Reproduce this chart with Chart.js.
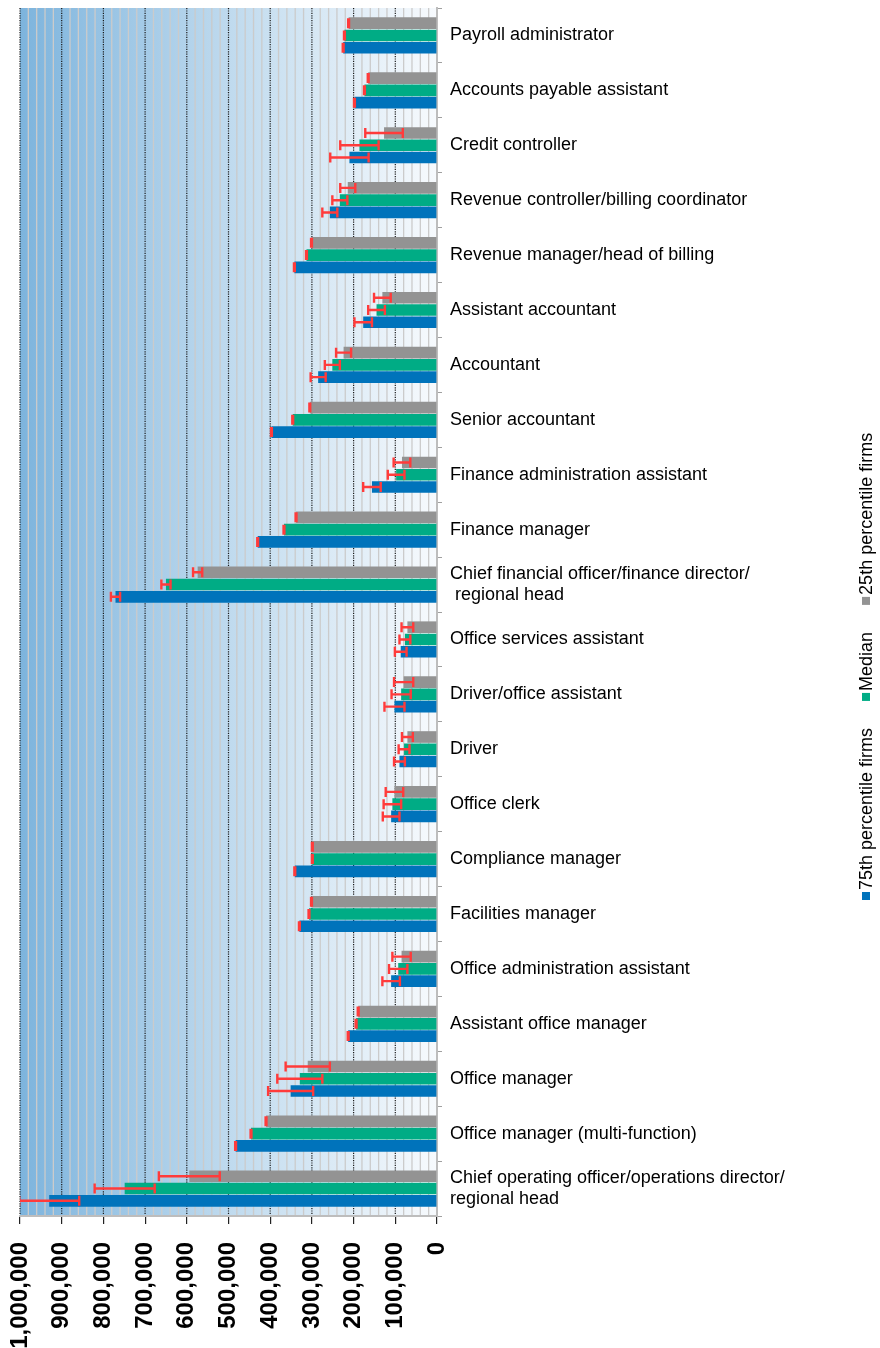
<!DOCTYPE html>
<html><head><meta charset="utf-8">
<script src="https://cdn.jsdelivr.net/npm/chart.js@4"></script>
<style>html,body{margin:0;padding:0;background:#fff}canvas{display:block}</style>
</head><body>
<canvas id="c" width="880" height="1348"></canvas>
<script>
const categories = [
  'Payroll administrator',
  'Accounts payable assistant',
  'Credit controller',
  'Revenue controller/billing coordinator',
  'Revenue manager/head of billing',
  'Assistant accountant',
  'Accountant',
  'Senior accountant',
  'Finance administration assistant',
  'Finance manager',
  ['Chief financial officer/finance director/', ' regional head'],
  'Office services assistant',
  'Driver/office assistant',
  'Driver',
  'Office clerk',
  'Compliance manager',
  'Facilities manager',
  'Office administration assistant',
  'Assistant office manager',
  'Office manager',
  'Office manager (multi-function)',
  ['Chief operating officer/operations director/', 'regional head']
];
const seriesNames = ['25th percentile firms', 'Median', '75th percentile firms'];
const p25    = [212000,165000,127000,214000,301000,131000,224000,305000, 84000,338000,574000, 71000, 80000, 71000,102000,299000,301000, 85000,189000,310000,410000,594000];
const median = [222000,174000,186000,233000,313000,145000,251000,346000, 98000,367000,650000, 77000, 86000, 79000,107000,299000,307000, 93000,194000,329000,446000,749000];
const p75    = [225000,198000,210000,257000,342000,177000,285000,397000,156000,430000,771000, 87000,102000, 90000,110000,341000,330000,110000,213000,351000,483000,930000];
const err25  = [1000,1000,45000,18000,1000,20000,18000,1000,20000,1000,11000,14000,23000,13000,21000,1000,1000,22000,1000,53000,1000,73000];
const errMed = [1000,1000,46000,18000,1000,20000,18000,1000,20000,1000,11000,13000,23000,13000,21000,1000,1000,22000,1000,54000,1000,72000];
const err75  = [1000,1000,46000,18000,1000,21000,18000,1000,21000,1000,11000,14000,24000,13000,20000,1000,1000,21000,1000,54000,1000,72000];
const axisMax = 1000000, majorStep = 100000, minorStep = 20000;

const colors = ['#939393', '#00ac85', '#0073bb'];
const FONT = "'Liberation Sans', Arial, sans-serif";

const backgroundPlugin = {
  id: 'bg',
  beforeDraw(chart) {
    const ctx = chart.ctx, a = chart.chartArea, xs = chart.scales.x;
    ctx.save();
    const g = ctx.createLinearGradient(a.left, 0, a.right, 0);
    g.addColorStop(0, '#7db4dd');
    g.addColorStop(0.5, '#bfdaee');
    g.addColorStop(1, '#f7fafd');
    ctx.fillStyle = g;
    ctx.fillRect(a.left, a.top, a.right - a.left, a.bottom - a.top);
    ctx.strokeStyle = '#cbcbcb';
    ctx.lineWidth = 1.3;
    for (let v = minorStep; v < axisMax; v += minorStep) {
      if (v % majorStep === 0) continue;
      const x = xs.getPixelForValue(v);
      ctx.beginPath(); ctx.moveTo(x, a.top); ctx.lineTo(x, a.bottom); ctx.stroke();
    }
    ctx.strokeStyle = '#1a1a1a';
    ctx.lineWidth = 1.2;
    ctx.setLineDash([1.2, 1.2]);
    for (let v = majorStep; v <= axisMax; v += majorStep) {
      const x = xs.getPixelForValue(v);
      ctx.beginPath(); ctx.moveTo(x, a.top); ctx.lineTo(x, a.bottom); ctx.stroke();
    }
    ctx.restore();
  }
};

const errorPlugin = {
  id: 'errs',
  afterDatasetsDraw(chart) {
    const ctx = chart.ctx, xs = chart.scales.x, a = chart.chartArea;
    ctx.save();
    ctx.beginPath(); ctx.rect(a.left, a.top - 2, a.right - a.left, a.bottom - a.top + 4); ctx.clip();
    ctx.strokeStyle = '#ff3b3b';
    ctx.lineWidth = 2.4;
    chart.data.datasets.forEach((ds, di) => {
      const meta = chart.getDatasetMeta(di);
      meta.data.forEach((bar, i) => {
        const v = ds.data[i], e = ds.errors[i];
        const x1 = xs.getPixelForValue(v - e), x2 = xs.getPixelForValue(v + e), y = bar.y, h = 5;
        ctx.beginPath();
        ctx.moveTo(x1, y); ctx.lineTo(x2, y);
        ctx.moveTo(x1, y - h); ctx.lineTo(x1, y + h);
        ctx.moveTo(x2, y - h); ctx.lineTo(x2, y + h);
        ctx.stroke();
      });
    });
    ctx.restore();
  }
};

const legendPlugin = {
  id: 'rotLegend',
  afterDraw(chart) {
    const ctx = chart.ctx;
    ctx.save();
    ctx.translate(866, 0);
    ctx.rotate(-Math.PI / 2);
    ctx.font = '18px ' + FONT;
    ctx.textBaseline = 'middle';
    ctx.textAlign = 'left';
    let u = -900;
    const order = [2, 1, 0];
    order.forEach(k => {
      ctx.fillStyle = colors[k];
      ctx.fillRect(u, -4, 8, 8);
      ctx.fillStyle = '#000';
      ctx.fillText(seriesNames[k], u + 10, 1);
      u += 10 + ctx.measureText(seriesNames[k]).width + 27;
    });
    ctx.restore();
  }
};

new Chart(document.getElementById('c'), {
  type: 'bar',
  data: {
    labels: categories,
    datasets: [
      { label: seriesNames[0], data: p25, errors: err25, backgroundColor: colors[0] },
      { label: seriesNames[1], data: median, errors: errMed, backgroundColor: colors[1] },
      { label: seriesNames[2], data: p75, errors: err75, backgroundColor: colors[2] }
    ]
  },
  options: {
    indexAxis: 'y',
    responsive: false,
    animation: false,
    devicePixelRatio: 1,
    datasets: { bar: { categoryPercentage: 0.67, barPercentage: 0.95 } },
    layout: { padding: { left: 20, top: 8, right: 0, bottom: 0 } },
    plugins: { legend: { display: false }, tooltip: { enabled: false } },
    scales: {
      x: {
        type: 'linear',
        reverse: true,
        min: 0, max: axisMax,
        position: 'bottom',
        grid: { drawOnChartArea: false, drawTicks: true, tickLength: 8, color: '#222', lineWidth: 1.2 },
        border: { display: true, color: '#bdbdbd', width: 2 },
        ticks: {
          stepSize: majorStep,
          minRotation: 90, maxRotation: 90,
          padding: 18,
          color: '#000',
          font: { family: FONT, size: 24, weight: 'bold' },
          callback: v => v.toLocaleString('en-US')
        },
        afterFit(s) { s.height = 132; s.paddingLeft = 0; s.paddingRight = 0; }
      },
      y: {
        position: 'right',
        grid: { drawOnChartArea: false, drawTicks: true, tickLength: 5, color: '#a0a0a0', offset: true },
        border: { display: true, color: '#bdbdbd', width: 2 },
        ticks: {
          padding: 8,
          color: '#000',
          font: { family: FONT, size: 18, lineHeight: 1.2 }
        },
        afterFit(s) { s.width = 443; s.paddingTop = 0; s.paddingBottom = 0; }
      }
    }
  },
  plugins: [backgroundPlugin, errorPlugin, legendPlugin]
});
</script>
</body></html>
